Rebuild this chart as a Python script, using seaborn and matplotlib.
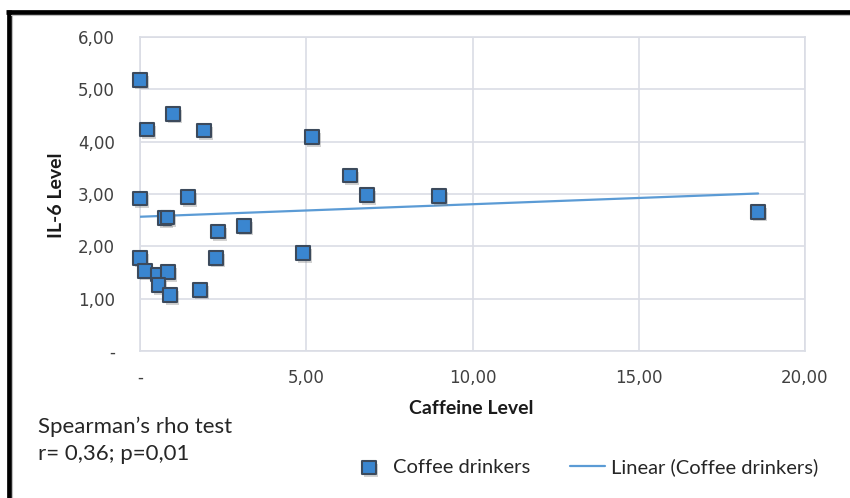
import matplotlib
matplotlib.use("Agg")
import matplotlib.pyplot as plt
import matplotlib.patheffects as pe
from matplotlib.lines import Line2D
import pandas as pd
import seaborn as sns

# Caffeine level vs IL-6 level for coffee drinkers
caffeine = [0.00, 0.21, 0.99, 1.92, 5.17, 6.32, 6.83, 8.99, 18.59, 0.00, 1.44, 0.73,
            0.83, 2.35, 3.13, 4.90, 0.00, 2.29, 0.15, 0.52, 0.85, 0.55, 0.91, 1.80]
il6 = [5.18, 4.23, 4.53, 4.21, 4.09, 3.35, 2.98, 2.96, 2.66, 2.91, 2.94, 2.54,
       2.55, 2.28, 2.39, 1.87, 1.78, 1.78, 1.53, 1.46, 1.51, 1.26, 1.07, 1.17]

x_ticks = [0, 5, 10, 15, 20]
x_tick_labels = ["-", "5,00", "10,00", "15,00", "20,00"]
y_ticks = [0, 1, 2, 3, 4, 5, 6]
y_tick_labels = ["-", "1,00", "2,00", "3,00", "4,00", "5,00", "6,00"]

series_label = "Coffee drinkers"
trend_label = "Linear (Coffee drinkers)"
x_title = "Caffeine Level"
y_title = "IL-6 Level"
stats_lines = ["Spearman\u2019s rho test", "r= 0,36; p=0,01"]

sns.set_theme(style="white")
plt.rcParams["font.family"] = ["DejaVu Sans"]
narrow = ["Liberation Sans Narrow", "Lato", "DejaVu Sans"]

grid_color = "#DADDE5"
df = pd.DataFrame({x_title: caffeine, y_title: il6})

W, H = 850, 498
fig = plt.figure(figsize=(W / 100, H / 100), dpi=100)
fig.patch.set_facecolor("white")
ax = fig.add_axes([140 / W, 1 - 351 / H, 665 / W, 314 / H])

sns.regplot(
    data=df, x=x_title, y=y_title, ax=ax, ci=None, truncate=True, marker="s",
    label=series_label,
    scatter_kws=dict(
        s=95, color="#3A86D0", edgecolor="#3C4A5C", linewidths=1.5, alpha=1,
        clip_on=False, zorder=4,
        path_effects=[pe.SimplePatchShadow(offset=(1.5, -2), shadow_rgbFace="#7F7F7F",
                                           alpha=0.35), pe.Normal()],
    ),
    line_kws=dict(color="#5B9BD5", lw=1.6, zorder=3, label=trend_label),
)

ax.set_xlim(0, 20)
ax.set_ylim(0, 6)
ax.set_xticks(x_ticks)
ax.set_xticklabels(x_tick_labels)
ax.set_yticks(y_ticks)
ax.set_yticklabels(y_tick_labels)
ax.grid(True, color=grid_color, lw=1.2)
ax.set_axisbelow(True)
for sp in ax.spines.values():
    sp.set_visible(True)
    sp.set_color(grid_color)
    sp.set_linewidth(1.2)
ax.tick_params(axis="both", length=0, labelsize=12, labelcolor="#404040")
ax.tick_params(axis="y", pad=18)
ax.tick_params(axis="x", pad=13)

ax.set_xlabel(x_title, fontsize=14, fontweight="bold", family=narrow, color="#1A1A1A")
ax.set_ylabel(y_title, fontsize=14, fontweight="bold", family=narrow, color="#1A1A1A")
ax.xaxis.label.set_va("center")
ax.yaxis.label.set_va("center")
ax.xaxis.set_label_coords((471 - 140) / 665, (351 - 409) / 314)
ax.yaxis.set_label_coords((57 - 140) / 665, (351 - 195) / 314)

fig.text(38 / W, 1 - 427 / H, stats_lines[0], fontsize=16, family=narrow,
         color="#262626", va="center", ha="left")
fig.text(38 / W, 1 - 454 / H, stats_lines[1], fontsize=16, family=narrow,
         color="#262626", va="center", ha="left")

handles, labels = ax.get_legend_handles_labels()
order = [labels.index(series_label), labels.index(trend_label)]
leg = ax.legend([handles[i] for i in order], [labels[i] for i in order],
                loc="center", bbox_to_anchor=(585 / W, 1 - 467 / H),
                bbox_transform=fig.transFigure, ncol=2, frameon=False,
                prop=dict(family=narrow, size=14.5), handlelength=1.75,
                handletextpad=0.3, columnspacing=2.0, labelcolor="#262626")

# chart frame
fig.add_artist(Line2D([6 / W, 1], [1 - 12 / H] * 2, transform=fig.transFigure,
                      color="black", lw=3.4, solid_capstyle="butt"))
fig.add_artist(Line2D([8.5 / W] * 2, [0, 1 - 10 / H], transform=fig.transFigure,
                      color="black", lw=3.4, solid_capstyle="butt"))
fig.add_artist(Line2D([11 / W, 1], [1 - 15.5 / H] * 2, transform=fig.transFigure,
                      color="#BFBFBF", lw=0.8))
fig.add_artist(Line2D([11.5 / W] * 2, [0, 1 - 15 / H], transform=fig.transFigure,
                      color="#BFBFBF", lw=0.8))

fig.savefig("out.png", dpi=100, facecolor="white")
